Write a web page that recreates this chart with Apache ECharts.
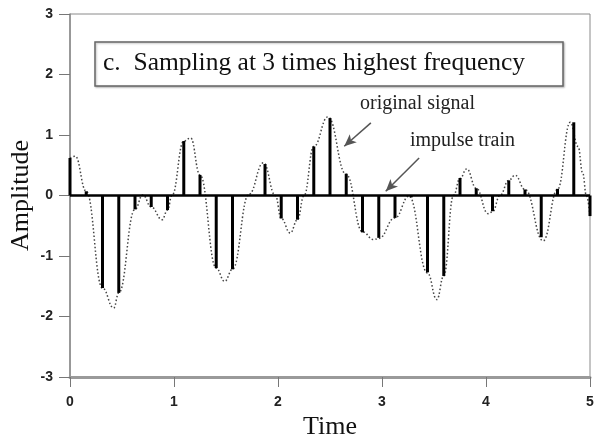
<!DOCTYPE html>
<html>
<head>
<meta charset="utf-8">
<style>
  html, body { margin: 0; padding: 0; background: #fff; }
  #chart-container { width: 594px; height: 441px; }
</style>
<script src="https://cdn.jsdelivr.net/npm/echarts@6/dist/echarts.min.js"></script>
</head>
<body>
<div id="chart-container"></div>
<script>
// samples of the impulse train (time, amplitude)
var sampleTimes = [0, 0.156, 0.3125, 0.469, 0.625, 0.781, 0.9375, 1.094, 1.25, 1.406, 1.5625,
  1.719, 1.875, 2.031, 2.1875, 2.344, 2.5, 2.656, 2.8125, 2.969, 3.125, 3.281, 3.4375,
  3.594, 3.75, 3.906, 4.0625, 4.219, 4.375, 4.531, 4.6875, 4.844, 5.0];
var sampleValues = [0.62, 0.07, -1.53, -1.61, -0.23, -0.19, -0.24, 0.90, 0.34, -1.20, -1.22,
  0.01, 0.52, -0.38, -0.40, 0.81, 1.28, 0.36, -0.61, -0.70, -0.37, -0.03, -1.27,
  -1.33, 0.29, 0.12, -0.26, 0.25, 0.10, -0.69, 0.11, 1.21, -0.34];

// original signal
var curveTimes = [0, 0.05, 0.156, 0.3125, 0.42, 0.469, 0.625, 0.70, 0.781, 0.886, 0.9375, 0.98,
  1.094, 1.16, 1.25, 1.406, 1.487, 1.5625, 1.72, 1.86, 1.975, 2.031, 2.118, 2.1875, 2.25,
  2.344, 2.48, 2.656, 2.8125, 2.92, 2.969, 3.125, 3.26, 3.4375, 3.527, 3.594, 3.687, 3.75,
  3.815, 3.906, 4.02, 4.0625, 4.135, 4.219, 4.28, 4.375, 4.55, 4.6875, 4.81, 4.885, 4.93,
  4.965, 5.0];
var curveValues = [0.62, 0.65, 0.07, -1.53, -1.86, -1.61, -0.23, 0.01, -0.19, -0.40, -0.24, 0.0,
  0.90, 0.95, 0.34, -1.20, -1.42, -1.22, 0.02, 0.54, 0.0, -0.38, -0.62, -0.40, 0.0,
  0.81, 1.30, 0.35, -0.60, -0.73, -0.71, -0.37, -0.01, -1.28, -1.72, -1.33, 0.0, 0.28,
  0.44, 0.12, -0.30, -0.27, 0.0, 0.25, 0.335, 0.10, -0.75, 0.10, 1.21, 0.81, 0.37,
  0.0, -0.34];

var xTicks = [0, 1, 2, 3, 4, 5];
var yTicks = [-3, -2, -1, 0, 1, 2, 3];

var titleText = 'c.  Sampling at 3 times highest frequency';
var serif = '"Liberation Serif", "Times New Roman", serif';
var labelFont = 'Arial, "Liberation Sans", sans-serif';

var dom = document.getElementById('chart-container');
var myChart = echarts.init(dom, null, { renderer: 'canvas' });

var impulses = sampleTimes.map(function (t, i) { return [t, sampleValues[i]]; });
var curve = curveTimes.map(function (t, i) { return [t, curveValues[i]]; });

var option = {
  animation: false,
  backgroundColor: '#fff',
  grid: {
    left: 70, right: 4, top: 14, bottom: 64,
    outerBoundsMode: 'none',
    containLabel: false,
    show: true, borderColor: '#8a8a8a', borderWidth: 1
  },
  xAxis: {
    type: 'value',
    min: xTicks[0], max: xTicks[xTicks.length - 1], interval: 1,
    name: 'Time', nameLocation: 'middle', nameGap: 36,
    nameTextStyle: { fontFamily: serif, fontSize: 26, color: '#111' },
    axisLine: { onZero: false, lineStyle: { color: '#9a9a9a', width: 3 } },
    axisTick: { length: 10, lineStyle: { color: '#777', width: 1 } },
    axisLabel: { margin: 18, fontSize: 14, fontWeight: 'bold', color: '#222', fontFamily: labelFont },
    splitLine: { show: false }
  },
  yAxis: {
    type: 'value',
    min: yTicks[0], max: yTicks[yTicks.length - 1], interval: 1,
    name: 'Amplitude', nameLocation: 'middle', nameGap: 36,
    nameMoveOverlap: false,
    nameTextStyle: { fontFamily: serif, fontSize: 26, color: '#111' },
    axisLine: { show: true, lineStyle: { color: '#8a8a8a', width: 1.5 } },
    axisTick: { length: 11, lineStyle: { color: '#777', width: 1 } },
    axisLabel: { margin: 17, fontSize: 14, fontWeight: 'bold', color: '#222', fontFamily: labelFont },
    splitLine: { show: false }
  },
  graphic: [
    {
      type: 'rect',
      shape: { x: 95, y: 42, width: 468, height: 44 },
      style: { fill: '#fff', stroke: '#666', lineWidth: 1.5,
        shadowColor: 'rgba(0,0,0,0.25)', shadowBlur: 2, shadowOffsetX: 1, shadowOffsetY: 1 },
      z: 10
    },
    {
      type: 'text',
      x: 103, y: 63,
      style: { text: titleText, font: '25.5px ' + serif, fill: '#111', verticalAlign: 'middle' },
      z: 11
    },
    {
      type: 'text',
      x: 360, y: 104,
      style: { text: 'original signal', font: '20px ' + serif, fill: '#222', verticalAlign: 'middle' },
      z: 11
    },
    {
      type: 'text',
      x: 410, y: 141,
      style: { text: 'impulse train', font: '20px ' + serif, fill: '#222', verticalAlign: 'middle' },
      z: 11
    }
  ],
  series: [
    {
      name: 'original signal',
      type: 'line',
      data: curve,
      smooth: 0.45,
      smoothMonotone: 'x',
      showSymbol: false,
      lineStyle: { color: '#444', width: 1.5, type: [1.5, 2.2] },
      z: 2,
      markLine: {
        silent: true,
        symbol: ['arrow', 'none'],
        symbolSize: [8, 12],
        label: { show: false },
        lineStyle: { color: '#555', width: 1.5, type: 'solid' },
        data: [
          [{ coord: [2.637, 0.815] }, { coord: [2.893, 1.20] }],
          [{ coord: [3.036, 0.07] }, { coord: [3.357, 0.62] }]
        ]
      }
    },
    {
      name: 'impulse train',
      type: 'bar',
      data: impulses,
      barWidth: 3,
      itemStyle: { color: '#000' },
      z: 3,
      markLine: {
        silent: true,
        symbol: 'none',
        label: { show: false },
        lineStyle: { color: '#000', width: 2.5, type: 'solid' },
        data: [{ yAxis: 0 }]
      }
    }
  ]
};

myChart.setOption(option);
window.addEventListener('resize', myChart.resize);
</script>
</body>
</html>
